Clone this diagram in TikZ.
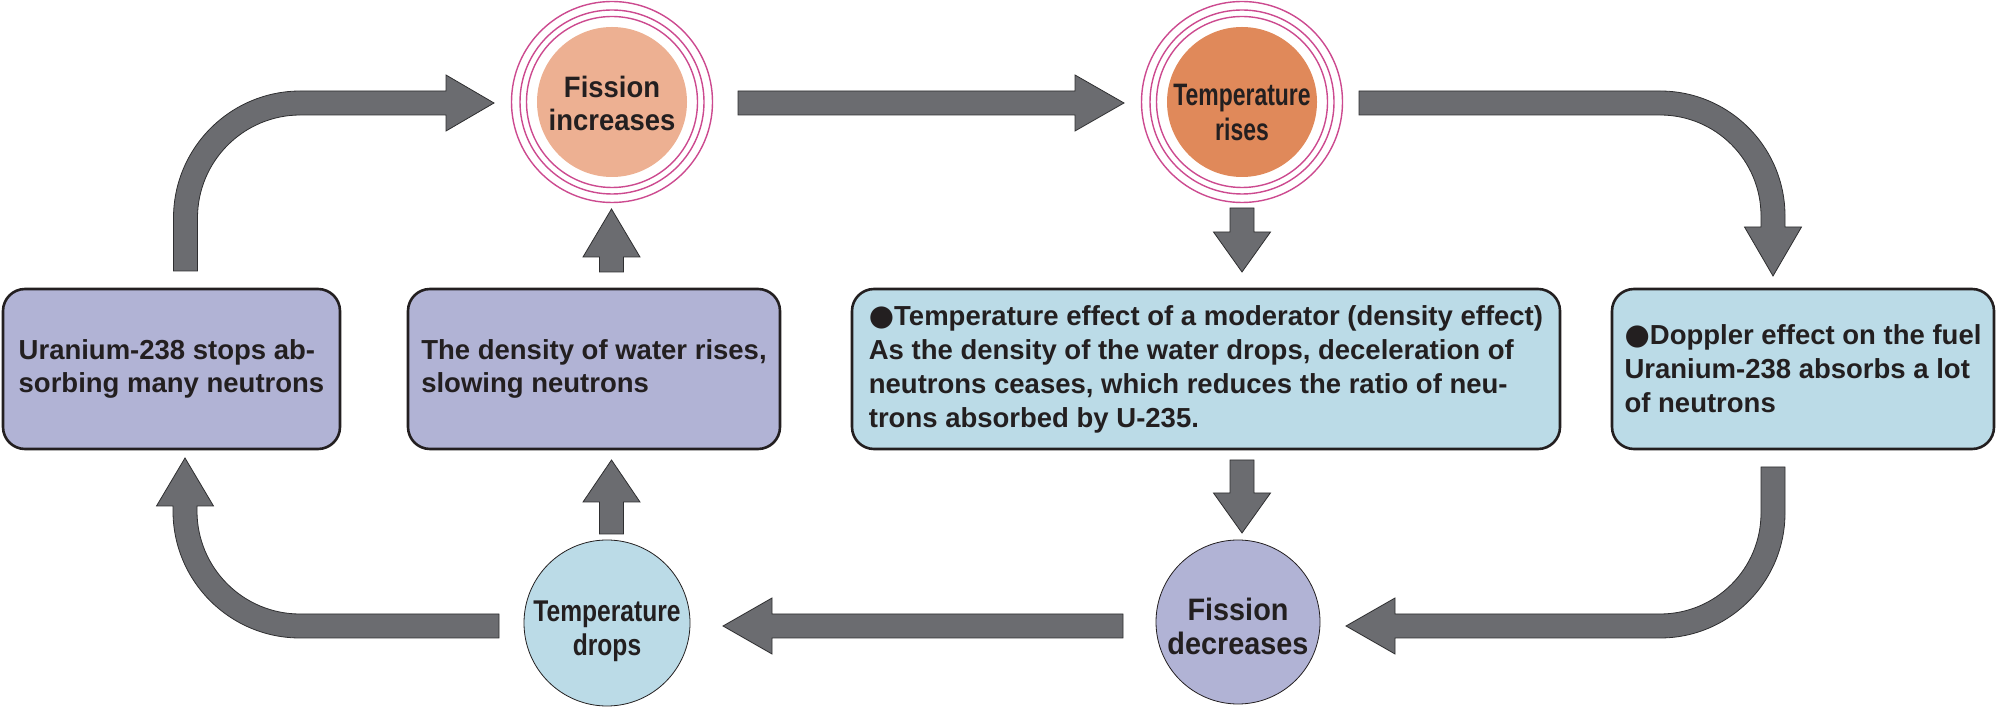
\documentclass[tikz,border=0pt]{standalone}
\usepackage{fontspec}
\setmainfont{Liberation Sans}
\newfontfamily\dejavu{DejaVu Sans}
\newfontfamily\fiFont[FakeStretch=0.93]{Liberation Sans}
\newfontfamily\trFont[FakeStretch=0.74]{Liberation Sans}
\newfontfamily\tdFont[FakeStretch=0.82]{Liberation Sans}
\usetikzlibrary{calc}
\definecolor{arrowgray}{HTML}{6B6C70}
\definecolor{arrowedge}{HTML}{2E2E30}
\definecolor{ink}{HTML}{231F20}
\definecolor{lav}{HTML}{B1B3D5}
\definecolor{sky}{HTML}{BBDBE7}
\definecolor{peach}{HTML}{EDB092}
\definecolor{tempor}{HTML}{E0895A}
\definecolor{ringc}{HTML}{CC4A8F}
\newcommand\fatRight[3]{\path[fat] let \p1=(#1),\p2=(#2) in (\x1,{\y2+12pt}) -- ({\x2-#3},{\y2+12pt}) -- ({\x2-#3},{\y2+28pt}) -- (\x2,\y2) -- ({\x2-#3},{\y2-28pt}) -- ({\x2-#3},{\y2-12pt}) -- (\x1,{\y2-12pt}) -- cycle;}
\newcommand\fatLeft[3]{\path[fat] let \p1=(#1),\p2=(#2) in (\x1,{\y2+12pt}) -- ({\x2+#3},{\y2+12pt}) -- ({\x2+#3},{\y2+28pt}) -- (\x2,\y2) -- ({\x2+#3},{\y2-28pt}) -- ({\x2+#3},{\y2-12pt}) -- (\x1,{\y2-12pt}) -- cycle;}
\newcommand\fatUp[3]{\path[fat] let \p1=(#1),\p2=(#2) in ({\x2-12pt},\y1) -- ({\x2-12pt},{\y2-#3}) -- ({\x2-28.5pt},{\y2-#3}) -- (\x2,\y2) -- ({\x2+28.5pt},{\y2-#3}) -- ({\x2+12pt},{\y2-#3}) -- ({\x2+12pt},\y1) -- cycle;}
\newcommand\fatDown[3]{\path[fat] let \p1=(#1),\p2=(#2) in ({\x2-12pt},\y1) -- ({\x2-12pt},{\y2+#3}) -- ({\x2-28.5pt},{\y2+#3}) -- (\x2,\y2) -- ({\x2+28.5pt},{\y2+#3}) -- ({\x2+12pt},{\y2+#3}) -- ({\x2+12pt},\y1) -- cycle;}
\tikzset{
  fat/.style={fill=arrowgray, draw=arrowedge, line width=0.8pt, line join=miter},
  card/.style={draw=ink, line width=2.6pt, rounded corners=22pt, minimum height=160pt, inner sep=0pt, align=left, text=ink, font=\bfseries\fontsize{27.5}{33}\selectfont},
  bubble/.style={circle, inner sep=0pt},
  bubbletext/.style={inner sep=0pt, align=center, text=ink},
  ringline/.style={draw=ringc, line width=1.4pt},
}
\begin{document}
\begin{tikzpicture}[x=1pt,y=1pt]
\useasboundingbox (0,0) rectangle (1997,715);
% circles
\node[bubble, fill=peach, minimum size=150pt] (FI) at (612,613) {};
\node[bubbletext, font=\fiFont\bfseries\fontsize{29.5}{33}\selectfont] (FIt) at ([yshift=-1pt]FI.center) {Fission\\increases};
\node[bubble, fill=tempor, minimum size=150pt] (TR) at (1242,613) {};
\node[bubbletext, font=\trFont\bfseries\fontsize{31}{35}\selectfont] (TRt) at ([yshift=-10pt]TR.center) {Temperature\\rises};
\foreach \c in {FI,TR}{
  \draw[ringline] (\c) circle[radius=100.5pt];
  \draw[ringline] (\c) circle[radius=92pt];
  \draw[ringline] (\c) circle[radius=85.5pt];
}
\node[bubble, fill=sky, draw=ink, line width=0.8pt, minimum size=166pt] (TD) at (607,92) {};
\node[bubbletext, font=\tdFont\bfseries\fontsize{30}{34}\selectfont] (TDt) at ([yshift=-8pt]TD.center) {Temperature\\drops};
\node[bubble, fill=lav, draw=ink, line width=0.8pt, minimum size=164pt] (FD) at (1238,93) {};
\node[bubbletext, font=\fiFont\bfseries\fontsize{31}{34}\selectfont] (FDt) at ([yshift=-4pt]FD.center) {Fission\\decreases};
% boxes
\node[card, fill=lav, minimum width=337pt] (B1) at (171.5,346) {Uranium-238 stops ab-\\sorbing many neutrons};
\node[card, fill=lav, minimum width=372pt] (B2) at (594,346) {The density of water rises,\\slowing neutrons};
\node[card, fill=sky, minimum width=708pt, font=\bfseries\fontsize{27.5}{34}\selectfont] (B3) at (1206,346) {{\dejavu\fontsize{29}{32}\selectfont ●}Temperature effect of a moderator (density effect)\\As the density of the water drops, deceleration of\\neutrons ceases, which reduces the ratio of neu-\\trons absorbed by U-235.};
\node[card, fill=sky, minimum width=382pt, font=\bfseries\fontsize{27.5}{34}\selectfont] (B4) at (1803,346) {{\dejavu\fontsize{29}{32}\selectfont ●}Doppler effect on the fuel\\Uranium-238 absorbs a lot\\of neutrons};
% straight arrows
\coordinate (a2s) at (738,612); \coordinate (a2t) at (1124,612);
\fatRight{a2s}{a2t}{49pt}
\coordinate (a7s) at (1123,89); \coordinate (a7t) at (723,89);
\fatLeft{a7s}{a7t}{49pt}
\coordinate (a4s) at (1242,507); \coordinate (a4t) at (1242,443);
\fatDown{a4s}{a4t}{40pt}
\coordinate (a5s) at (1242,255); \coordinate (a5t) at (1242,182);
\fatDown{a5s}{a5t}{40pt}
\coordinate (a9s) at (611.5,443); \coordinate (a9t) at (611.5,506);
\fatUp{a9s}{a9t}{48pt}
\coordinate (a10s) at (611.5,181); \coordinate (a10t) at (611.5,255);
\fatUp{a10s}{a10t}{42pt}
% curved arrows
\path[fat] (173.5,444) -- (173.5,497) arc[start angle=180,end angle=90,radius=127pt] -- (446,624) -- (446,640) -- (494,612) -- (446,584) -- (446,600) -- (300.5,600) arc[start angle=90,end angle=180,radius=103pt] -- (197.5,444) -- cycle;
\path[fat] (1359,624) -- (1660,624) arc[start angle=90,end angle=0,radius=125pt] -- (1785,488) -- (1801.5,488) -- (1773,439) -- (1744.5,488) -- (1761,488) -- (1761,499) arc[start angle=0,end angle=90,radius=101pt] -- (1359,600) -- cycle;
\path[fat] (1761,248) -- (1785,248) -- (1785,202) arc[start angle=0,end angle=-90,radius=125pt] -- (1395,77) -- (1395,61) -- (1346,89) -- (1395,117) -- (1395,101) -- (1660,101) arc[start angle=-90,end angle=0,radius=101pt] -- cycle;
\path[fat] (499,101) -- (300,101) arc[start angle=270,end angle=180,radius=103pt] -- (197,209) -- (213.5,209) -- (185,257) -- (156.5,209) -- (173,209) -- (173,204) arc[start angle=180,end angle=270,radius=127pt] -- (499,77) -- cycle;
\end{tikzpicture}
\end{document}
